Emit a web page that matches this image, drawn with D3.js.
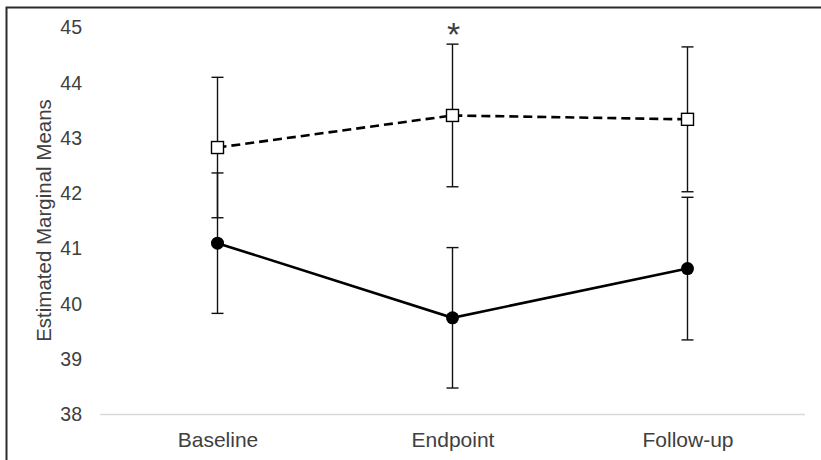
<!DOCTYPE html>
<html>
<head>
<meta charset="utf-8">
<script src="https://cdn.jsdelivr.net/npm/d3@7"></script>
<style>
  html, body { margin: 0; padding: 0; background: #fff; }
  svg { display: block; }
  text { font-family: "Liberation Sans", Arial, sans-serif; fill: #404040; }
</style>
</head>
<body>
<svg id="chart" width="821" height="460"></svg>
<script>
// Time points of the study
const categories = ["Baseline", "Endpoint", "Follow-up"];

// Group shown with open squares and a dashed line
const squareMeans = [42.82, 43.40, 43.33];
const squareErrors = [1.27, 1.29, 1.31];

// Group shown with filled circles and a solid line
const circleMeans = [41.09, 39.74, 40.63];
const circleErrors = [1.27, 1.27, 1.29];

// Y axis tick values
const yTicks = [38, 39, 40, 41, 42, 43, 44, 45];

// Significance marker per time point
const significance = ["", "*", ""];

const svg = d3.select("#chart");
const W = 821, H = 460;
const margin = { top: 27, right: 16, bottom: 46, left: 100 };

// Outer frame, open towards the right and bottom edges
svg.append("rect")
  .attr("x", 6.5).attr("y", 7.5)
  .attr("width", W + 20).attr("height", H + 20)
  .attr("fill", "none").attr("stroke", "#2b2b2b").attr("stroke-width", 2);

const x = d3.scalePoint()
  .domain(categories)
  .range([margin.left, W - margin.right])
  .padding(0.5);

const y = d3.scaleLinear()
  .domain([38, 45])
  .range([H - margin.bottom, margin.top]);

// Y axis: labels only
const yAxis = svg.append("g")
  .attr("transform", `translate(${margin.left - 18},0)`)
  .call(d3.axisLeft(y).tickValues(yTicks).tickSize(0).tickPadding(0).tickFormat(d3.format("d")));
yAxis.select(".domain").remove();
yAxis.selectAll("text")
  .attr("font-size", 19.5)
  .attr("dy", "0.35em")
  .style("font-family", "'Liberation Sans', Arial, sans-serif")
  .attr("fill", "#404040");

// X axis: light baseline and category names
const xAxis = svg.append("g")
  .attr("transform", `translate(0,${y(38)})`)
  .call(d3.axisBottom(x).tickSize(0).tickPadding(0));
xAxis.select(".domain")
  .attr("d", `M${margin.left},0.5H${W - margin.right}`)
  .attr("stroke", "#d9d9d9").attr("stroke-width", 1.5);
xAxis.selectAll("text")
  .attr("font-size", 21)
  .attr("y", 33)
  .attr("dy", 0)
  .style("font-family", "'Liberation Sans', Arial, sans-serif")
  .attr("fill", "#404040");

// Y axis title
svg.append("text")
  .attr("transform", `translate(51,${(y(38) + y(45)) / 2}) rotate(-90)`)
  .attr("text-anchor", "middle")
  .attr("font-size", 20.5)
  .text("Estimated Marginal Means");

const capHalf = 6;
function drawErrorBars(means, errors) {
  const g = svg.append("g").attr("stroke", "#111").attr("stroke-width", 1.4).attr("fill", "none");
  means.forEach((m, i) => {
    const cx = x(categories[i]);
    const top = y(m + errors[i]);
    const bot = y(m - errors[i]);
    g.append("line").attr("x1", cx).attr("x2", cx).attr("y1", top).attr("y2", bot);
    g.append("line").attr("x1", cx - capHalf).attr("x2", cx + capHalf).attr("y1", top).attr("y2", top);
    g.append("line").attr("x1", cx - capHalf).attr("x2", cx + capHalf).attr("y1", bot).attr("y2", bot);
  });
}
drawErrorBars(squareMeans, squareErrors);
drawErrorBars(circleMeans, circleErrors);

const line = d3.line()
  .x((d, i) => x(categories[i]))
  .y(d => y(d));

svg.append("path")
  .datum(squareMeans)
  .attr("d", line)
  .attr("fill", "none")
  .attr("stroke", "#000")
  .attr("stroke-width", 2.6)
  .attr("stroke-dasharray", "9,5");

svg.append("path")
  .datum(circleMeans)
  .attr("d", line)
  .attr("fill", "none")
  .attr("stroke", "#000")
  .attr("stroke-width", 2.6);

// Open square markers
const sq = 12;
svg.append("g").selectAll("rect")
  .data(squareMeans)
  .join("rect")
  .attr("x", (d, i) => x(categories[i]) - sq / 2)
  .attr("y", d => y(d) - sq / 2)
  .attr("width", sq).attr("height", sq)
  .attr("fill", "#fff").attr("stroke", "#000").attr("stroke-width", 1.4);

// Filled circle markers
svg.append("g").selectAll("circle")
  .data(circleMeans)
  .join("circle")
  .attr("cx", (d, i) => x(categories[i]))
  .attr("cy", d => y(d))
  .attr("r", 6.5)
  .attr("fill", "#000");

// Significance asterisks above the upper error bar
svg.append("g").selectAll("text")
  .data(significance)
  .join("text")
  .attr("x", (d, i) => x(categories[i]) + 1)
  .attr("y", (d, i) => y(squareMeans[i] + squareErrors[i]) + 2)
  .attr("text-anchor", "middle")
  .attr("font-size", 34)
  .attr("fill", "#222")
  .text(d => d);
</script>
</body>
</html>
